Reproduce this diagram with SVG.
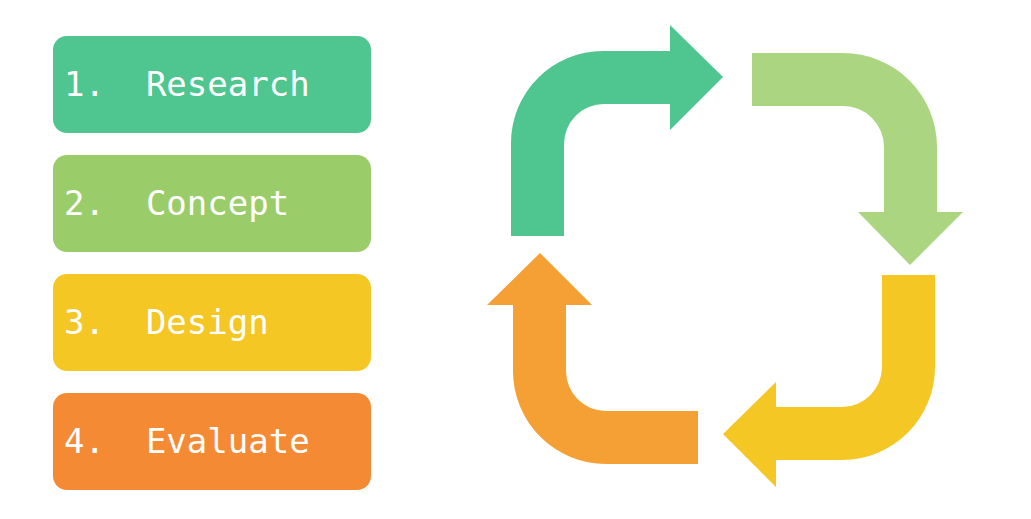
<svg xmlns="http://www.w3.org/2000/svg" width="1031" height="519" viewBox="0 0 1031 519">
<style>
.lbl{font-family:"DejaVu Sans Mono",monospace;font-size:34px;fill:#fff;white-space:pre}
</style>
<rect width="1031" height="519" fill="#fff"/>
<g id="n1"><rect x="53" y="36" width="318" height="97" rx="14" fill="#4fc58f"/><text class="lbl" x="64" y="96" xml:space="preserve">1.  Research</text></g>
<g id="n2"><rect x="53" y="155" width="318" height="97" rx="14" fill="#9acd6a"/><text class="lbl" x="64" y="215" xml:space="preserve">2.  Concept</text></g>
<g id="n3"><rect x="53" y="274" width="318" height="97" rx="14" fill="#f4c724"/><text class="lbl" x="64" y="334" xml:space="preserve">3.  Design</text></g>
<g id="n4"><rect x="53" y="393" width="318" height="97" rx="14" fill="#f48a33"/><text class="lbl" x="64" y="453" xml:space="preserve">4.  Evaluate</text></g>
<g id="connectors">
<path fill="#4fc58f" d="M511,236 L511,143 A92,92 0 0 1 603,51 L670,51 L670,25 L723,77 L670,130 L670,104 L604,104 A40,40 0 0 0 564,144 L564,236 Z"/>
<path fill="#acd582" d="M752,53 L843,53 A94,94 0 0 1 937,147 L937,212 L963,212 L910,265 L858,212 L884,212 L884,147 A41,41 0 0 0 843,106 L752,106 Z"/>
<path fill="#f4c724" d="M935,275 L935,367 A93,93 0 0 1 842,460 L776,460 L776,487 L723,434 L776,382 L776,407 L842,407 A40,40 0 0 0 882,367 L882,275 Z"/>
<path fill="#f4a034" d="M698,464 L606,464 A93,93 0 0 1 513,371 L513,305 L487,305 L540,253 L592,305 L566,305 L566,371 A40,40 0 0 0 606,411 L698,411 Z"/>
</g>
</svg>
